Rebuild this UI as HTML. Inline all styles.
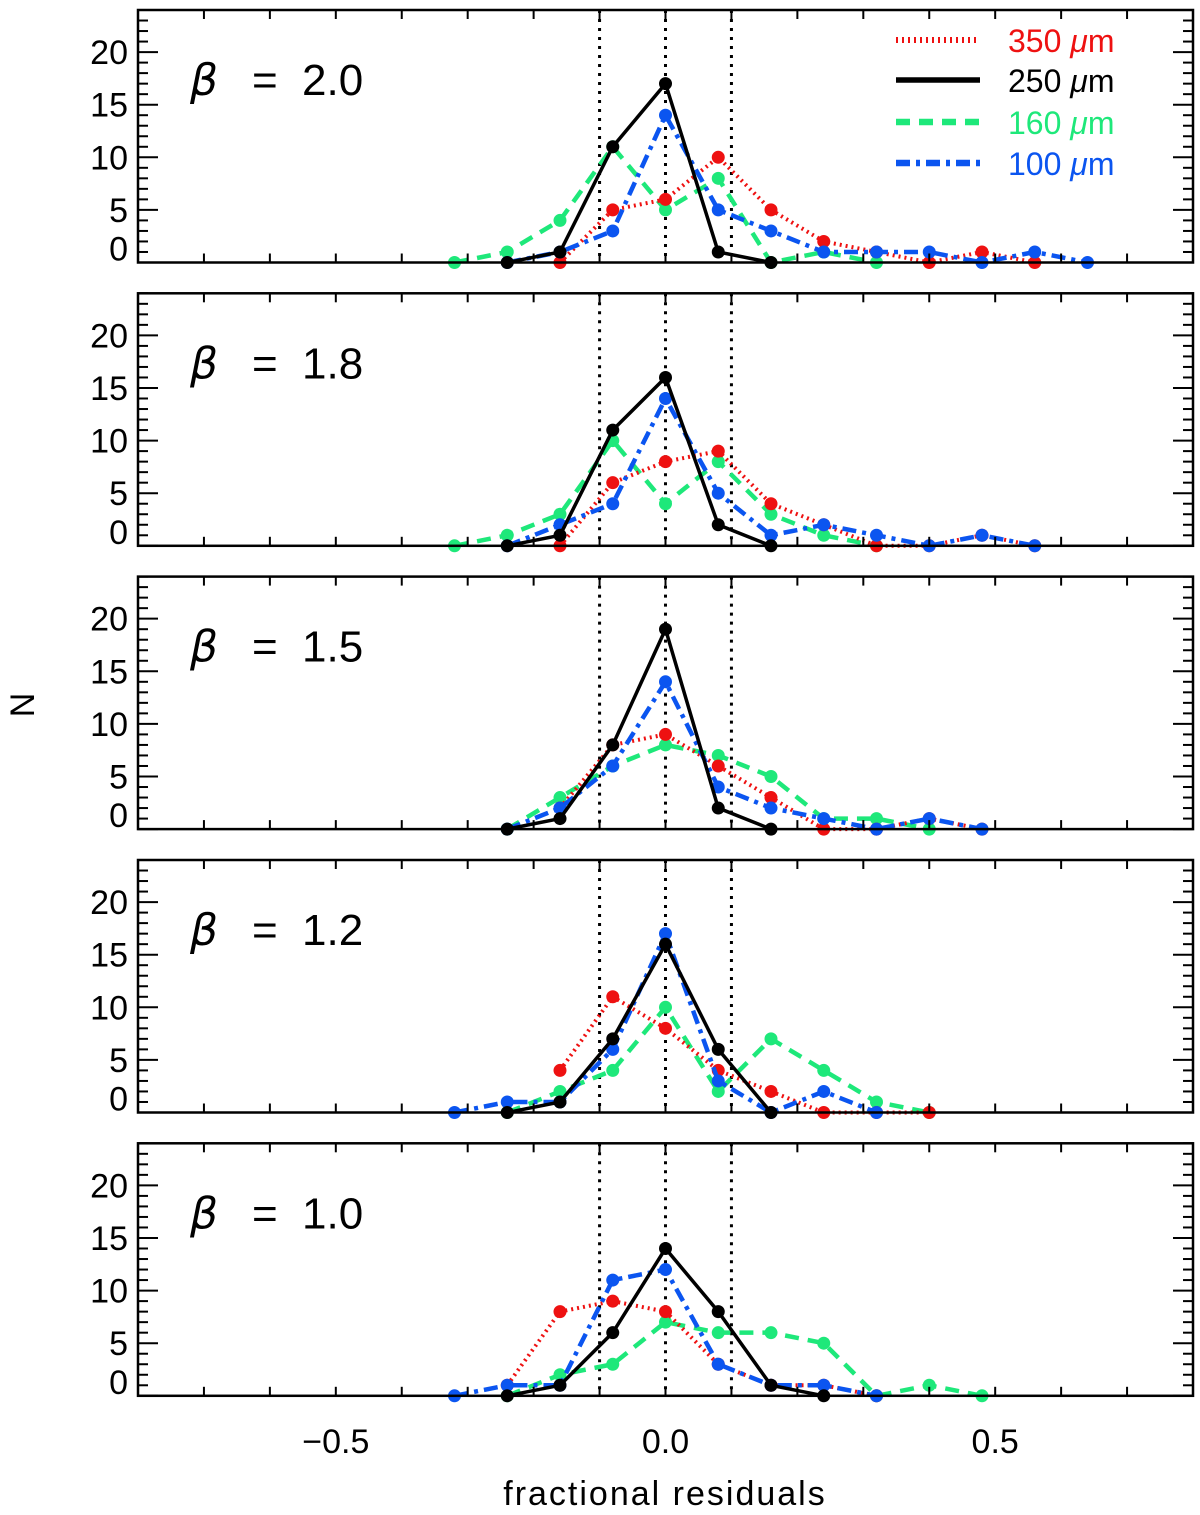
<!DOCTYPE html>
<html><head><meta charset="utf-8"><style>
html,body{margin:0;padding:0;background:#fff;}
svg text{font-family:"Liberation Sans",sans-serif;}
</style></head><body>
<svg id="chart" width="1200" height="1510" xmlns="http://www.w3.org/2000/svg"></svg>
<script>
const xBins = [-0.32,-0.24,-0.16,-0.08,0,0.08,0.16,0.24,0.32,0.40,0.48,0.56,0.64];
const betaLabels = ["2.0","1.8","1.5","1.2","1.0"];
const seriesNames = ["350","250","160","100"];
// values per panel; null = no point
const red = [
 [null,null,0,5,6,10,5,2,1,0,1,0,null],
 [null,null,0,6,8,9,4,2,0,0,1,0,null],
 [null,null,2,8,9,6,3,0,0,1,0,null,null],
 [null,null,4,11,8,4,2,0,0,0,null,null,null],
 [null,1,8,9,8,3,1,1,0,null,null,null,null]];
const black = [
 [null,0,1,11,17,1,0,null,null,null,null,null,null],
 [null,0,1,11,16,2,0,null,null,null,null,null,null],
 [null,0,1,8,19,2,0,null,null,null,null,null,null],
 [null,0,1,7,16,6,0,null,null,null,null,null,null],
 [null,0,1,6,14,8,1,0,null,null,null,null,null]];
const green = [
 [0,1,4,11,5,8,0,1,0,null,null,null,null],
 [0,1,3,10,4,8,3,1,0,null,null,null,null],
 [null,0,3,6,8,7,5,1,1,0,null,null,null],
 [null,0,2,4,10,2,7,4,1,0,null,null,null],
 [null,0,2,3,7,6,6,5,0,1,0,null,null]];
const blue = [
 [null,0,1,3,14,5,3,1,1,1,0,1,0],
 [null,0,2,4,14,5,1,2,1,0,1,0,null],
 [null,0,2,6,14,4,2,1,0,1,0,null,null],
 [0,1,1,6,17,3,0,2,0,null,null,null,null],
 [0,1,1,11,12,3,1,1,0,null,null,null,null]];
const xTickLabels = [-0.5,0.0,0.5];
const yTickLabels = [0,5,10,15,20];

const NS="http://www.w3.org/2000/svg";
const svg=document.getElementById('chart');
const L=138,R=1193,X0=-0.8,X1=0.8,YMAX=24,PH=252.5;
const tops=[10,293.3,576.6,860,1143.3];
function sx(v){return L+(v-X0)/(X1-X0)*(R-L);}
function mk(tag,attrs,parent){const e=document.createElementNS(NS,tag);for(const k in attrs)e.setAttribute(k,attrs[k]);(parent||svg).appendChild(e);return e;}
const styles=[
 {c:"#ee1111",d:"2,4",w:4,data:red},
 {c:"#000000",d:"",w:3.5,data:black},
 {c:"#1ee87a",d:"14,9",w:4.5,data:green},
 {c:"#0b55f0",d:"14,6,4,6",w:4.5,data:blue}];
const drawOrder=[2,0,3,1];
tops.forEach((T,p)=>{
  const B=T+PH;
  const sy=v=>B-v/YMAX*PH;
  const g=mk('g',{});
  
  
  [-0.1,0,0.1].forEach(v=>{
    const l=mk('line',{x1:sx(v),x2:sx(v),y1:T,y2:B,stroke:"#000","stroke-width":3,"stroke-dasharray":"3,6"},g);
    
    
  });
  drawOrder.forEach(si=>{
    const s=styles[si];const vals=s.data[p];
    let pts=[];
    vals.forEach((v,i)=>{if(v!==null)pts.push([sx(xBins[i]),sy(v)]);});
    const pl=mk('polyline',{points:pts.map(q=>q.join(',')).join(' '),fill:"none",stroke:s.c,"stroke-width":s.w,"stroke-dasharray":s.d},g);
    
    
    pts.forEach(q=>{
      const c=mk('circle',{cx:q[0],cy:q[1],r:6.5,fill:s.c},g);
      
      
    });
  });
  const fr=mk('rect',{x:L,y:T,width:R-L,height:PH,fill:"none",stroke:"#000","stroke-width":2.5},g);
  
  
  for(let k=-8;k<=8;k++){const x=sx(k/10);
    mk('line',{x1:x,x2:x,y1:B,y2:B-9,stroke:"#000","stroke-width":2},g);
    mk('line',{x1:x,x2:x,y1:T,y2:T+9,stroke:"#000","stroke-width":2},g);}
  for(let v=0;v<=24;v++){const y=sy(v);const len=v%5==0?20:10;
    mk('line',{x1:L,x2:L+len,y1:y,y2:y,stroke:"#000","stroke-width":2},g);
    mk('line',{x1:R,x2:R-len,y1:y,y2:y,stroke:"#000","stroke-width":2},g);}
  yTickLabels.forEach(v=>{
    const y=v===0?sy(v)-2:sy(v)+12;
    const t=mk('text',{x:128,y:y,"text-anchor":"end","font-size":34},g);t.textContent=v;
    
    
  });
  const bl=mk('text',{x:190,y:T+85,"font-size":44},g);
  bl.innerHTML='<tspan font-style="italic" font-family="DejaVu Sans">β</tspan><tspan x="252">=</tspan><tspan x="302">'+betaLabels[p]+'</tspan>';
  
  
  if(p===4){
    xTickLabels.forEach(v=>{
      const t=mk('text',{x:sx(v),y:B+57,"text-anchor":"middle","font-size":34},g);
      t.textContent=v<0?'−'+Math.abs(v).toFixed(1):v.toFixed(1);
      
      
    });
  }
});
const lg=mk('g',{});


const lys=[40,80,122,163];
styles.forEach((s,i)=>{
  const y=lys[i];
  mk('line',{x1:896,x2:980,y1:y,y2:y,stroke:s.c,"stroke-width":s.w+2,"stroke-dasharray":s.d},lg);
  const t=mk('text',{x:1008,y:y+12,"font-size":32,fill:s.c},lg);
  t.innerHTML=seriesNames[i]+' <tspan font-style="italic">μ</tspan>m';
  
  
});
const xl=mk('text',{x:665,y:1505,"text-anchor":"middle","font-size":34,"letter-spacing":"2"});
xl.textContent='fractional residuals';


const yl=mk('text',{x:34,y:705,"text-anchor":"middle","font-size":34,transform:"rotate(-90 34 705)"});
yl.textContent='N';


</script>
</body></html>
